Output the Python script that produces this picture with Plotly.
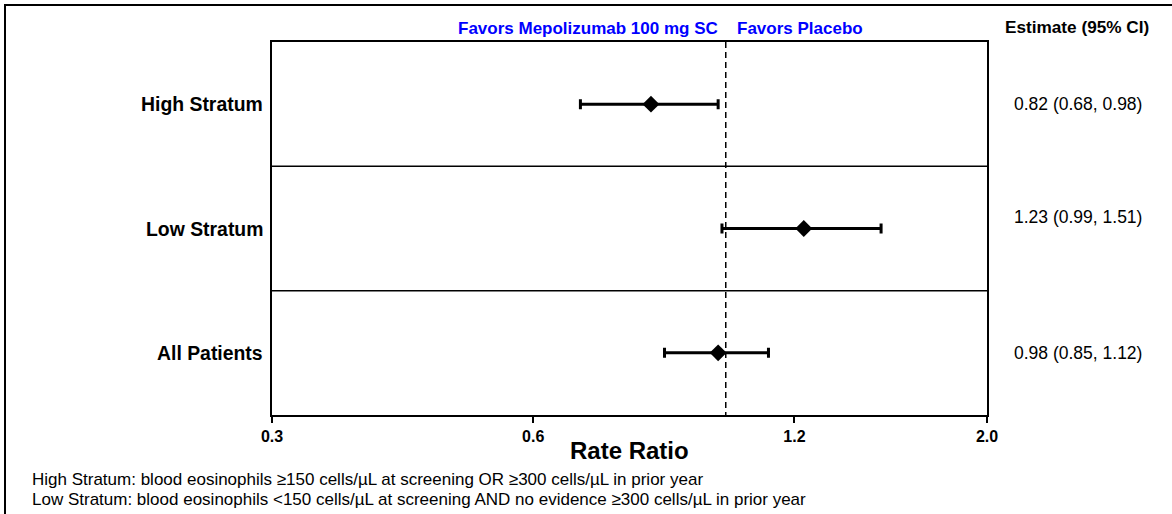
import plotly.graph_objects as go

# Forest plot data: rate ratio estimates with 95% confidence intervals
groups = ["High Stratum", "Low Stratum", "All Patients"]
estimates = [0.82, 1.23, 0.98]
ci_lower = [0.68, 0.99, 0.85]
ci_upper = [0.98, 1.51, 1.12]
x_ticks = [0.3, 0.6, 1.2, 2.0]
footnotes = [
    "High Stratum: blood eosinophils \u2265150 cells/\u00b5L at screening OR \u2265300 cells/\u00b5L in prior year",
    "Low Stratum: blood eosinophils <150 cells/\u00b5L at screening AND no evidence \u2265300 cells/\u00b5L in prior year",
]

W, H = 1172, 514
FONT = "Liberation Sans, Arial, sans-serif"
L, R, T, B = 272, 987, 42, 415  # plot area in pixels


def px(x):
    return x / W


def py(y):
    return 1 - y / H


rows = list(range(len(groups)))

fig = go.Figure()

# reference line at rate ratio 1
fig.add_trace(go.Scatter(
    x=[1, 1], y=[-0.5, 2.5], mode="lines",
    line=dict(color="black", width=1.5, dash="6px,4px"),
    hoverinfo="skip", showlegend=False,
))

fig.add_trace(go.Scatter(
    x=estimates, y=rows, mode="markers",
    marker=dict(symbol="diamond", size=13, color="black"),
    error_x=dict(
        type="data", symmetric=False,
        array=[u - e for u, e in zip(ci_upper, estimates)],
        arrayminus=[e - l for e, l in zip(estimates, ci_lower)],
        color="black", thickness=3, width=5,
    ),
    showlegend=False,
))

shapes = []
# row separators
for b in [0.5, 1.5]:
    shapes.append(dict(type="line", xref="x domain", x0=0, x1=1, yref="y", y0=b, y1=b,
                       line=dict(color="black", width=1.5)))
# outer frame (left and top edges)
shapes.append(dict(type="path", xref="paper", yref="paper",
                   path=f"M {px(5)},{py(520)} L {px(5)},{py(5)} L {px(1180)},{py(5)}",
                   line=dict(color="black", width=2)))

annotations = []
# row labels
for r, g in zip(rows, groups):
    annotations.append(dict(
        x=px(265), xref="paper", y=r, yref="y", text=g, showarrow=False,
        xanchor="right", yanchor="middle",
        font=dict(family=FONT, size=19.4, color="black", weight="bold"),
    ))

# estimate text column
text_shift = {1: 12}
for r, e, l, u in zip(rows, estimates, ci_lower, ci_upper):
    annotations.append(dict(
        x=px(1078), xref="paper", y=r, yref="y", yshift=text_shift.get(r, 0),
        text=f"{e:.2f} ({l:.2f}, {u:.2f})", showarrow=False,
        xanchor="center", yanchor="middle",
        font=dict(family=FONT, size=17.5, color="black"),
    ))

header_font = dict(family=FONT, size=17, color="#0000ff", weight="bold")
annotations += [
    dict(x=px(720), y=py(28), xref="paper", yref="paper", text="Favors Mepolizumab 100 mg SC",
         showarrow=False, xanchor="right", yanchor="middle", font=header_font),
    dict(x=px(735), y=py(28), xref="paper", yref="paper", text="Favors Placebo",
         showarrow=False, xanchor="left", yanchor="middle", font=header_font),
    dict(x=px(1077), y=py(27), xref="paper", yref="paper", text="Estimate (95% CI)",
         showarrow=False, xanchor="center", yanchor="middle",
         font=dict(family=FONT, size=17.2, color="black", weight="bold")),
    dict(x=px((L + R) / 2), y=py(450), xref="paper", yref="paper", text="Rate Ratio",
         showarrow=False, xanchor="center", yanchor="middle",
         font=dict(family=FONT, size=24, color="black", weight="bold")),
]
for i, note in enumerate(footnotes):
    annotations.append(dict(
        x=px(30), y=py(479 + 20 * i), xref="paper", yref="paper", text=note,
        showarrow=False, xanchor="left", yanchor="middle",
        font=dict(family=FONT, size=17, color="black"),
    ))

fig.update_layout(
    width=W, height=H, autosize=False,
    margin=dict(l=0, r=0, t=0, b=0, pad=0, autoexpand=False),
    paper_bgcolor="white", plot_bgcolor="white",
    shapes=shapes, annotations=annotations,
    xaxis=dict(
        type="log", domain=[px(L), px(R)],
        range=[-0.5228787, 0.30103],
        tickvals=x_ticks, ticktext=[f"{t:.1f}" for t in x_ticks],
        ticks="outside", ticklen=6, tickwidth=2, tickcolor="black",
        tickfont=dict(family=FONT, size=16, color="black", weight="bold"),
        showline=True, linecolor="black", linewidth=2, mirror=True,
        showgrid=False, zeroline=False, automargin=False,
    ),
    yaxis=dict(
        domain=[py(B), py(T)],
        range=[2.5, -0.5],
        showticklabels=False, ticks="",
        showline=True, linecolor="black", linewidth=2, mirror=True,
        showgrid=False, zeroline=False, automargin=False,
    ),
)

fig.write_html("out.html", post_script="document.body.style.margin='0';")
